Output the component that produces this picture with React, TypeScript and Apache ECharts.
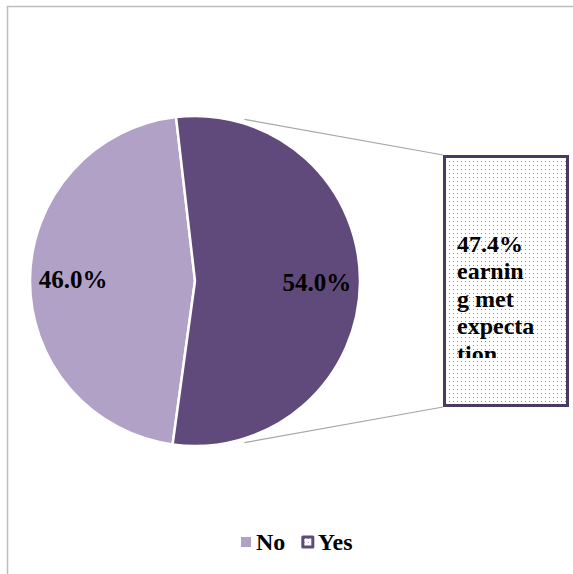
import React, { useEffect, useRef } from "react";
import * as echarts from "echarts";

const categories = ["No", "Yes"];
const shares = [46.0, 54.0];
const calloutLines = ["47.4%", "earnin", "g met", "expecta", "tion"];

const NO_COLOR = "#B2A1C7";
const YES_COLOR = "#604A7B";
const BOX_BORDER = "#4A3A60";
const FONT = "Liberation Serif";

const CX = 195;
const CY = 281;
const R = 165;

const dotSvg =
  "data:image/svg+xml;utf8," +
  encodeURIComponent(
    "<svg xmlns='http://www.w3.org/2000/svg' width='4' height='4'><rect x='0' y='0' width='4' height='4' fill='#ffffff'/><rect x='1' y='1' width='1' height='1' fill='#9486AE'/></svg>"
  );

export default function App() {
  const ref = useRef<HTMLDivElement>(null);
  useEffect(() => {
    if (!ref.current) return;
    const chart = echarts.init(ref.current, undefined, { renderer: "svg" });
    const pattern: any = {
      image: dotSvg,
      repeat: "repeat",
      imageWidth: 4,
      imageHeight: 4,
    };
    const total = shares.reduce((a, b) => a + b, 0);
    const noAngle = (shares[0] / total) * 360;
    const startAngle = 96.6 + noAngle;
    const colors = [NO_COLOR, YES_COLOR];
    const data = categories.map((c, i) => ({
      name: c,
      value: shares[i],
      itemStyle: { color: colors[i] },
    }));

    const a1 = (73 * Math.PI) / 180;
    const a2 = (-73 * Math.PI) / 180;
    const p1 = [CX + (R + 4) * Math.cos(a1), CY - (R + 4) * Math.sin(a1)];
    const p2 = [CX + (R + 4) * Math.cos(a2), CY - (R + 4) * Math.sin(a2)];

    const boxX = 444.5;
    const boxY = 156.5;
    const boxW = 123;
    const boxH = 249;

    chart.setOption({
      animation: false,
      backgroundColor: "#ffffff",
      legend: {
        left: 236,
        top: 525,
        itemWidth: 10,
        itemHeight: 10,
        itemGap: 16,
        icon: "rect",
        textStyle: {
          fontFamily: FONT,
          fontSize: 24,
          fontWeight: "bold",
          color: "#000",
        },
        data: [
          { name: "No", itemStyle: { color: NO_COLOR, borderWidth: 0 } },
          {
            name: "Yes",
            itemStyle: { color: pattern, borderColor: YES_COLOR, borderWidth: 3 },
          },
        ],
      },
      series: [
        {
          type: "pie",
          center: [CX, CY],
          radius: [0, R],
          startAngle,
          clockwise: true,
          silent: true,
          label: { show: false },
          labelLine: { show: false },
          itemStyle: { borderColor: "#ffffff", borderWidth: 2.5 },
          emphasis: { disabled: true },
          data,
        },
        {
          type: "pie",
          center: [CX, CY],
          radius: [R * 0.44, R],
          startAngle,
          clockwise: true,
          silent: true,
          itemStyle: { color: "rgba(0,0,0,0)" },
          emphasis: { disabled: true },
          label: {
            show: true,
            position: "inside",
            formatter: (p: any) => p.value.toFixed(1) + "%",
            fontFamily: FONT,
            fontSize: 25,
            fontWeight: "bold",
            color: "#000",
          },
          labelLine: { show: false },
          data: categories.map((c, i) => ({ name: c + " ", value: shares[i] })),
        },
      ],
      graphic: [
        {
          type: "rect",
          shape: { x: 7.5, y: 6.5, width: 700, height: 700 },
          style: { fill: "none", stroke: "#BDBDBD", lineWidth: 1.5 },
          silent: true,
        },
        {
          type: "line",
          shape: { x1: p1[0], y1: p1[1], x2: boxX - 1.5, y2: boxY - 1.5 },
          style: { stroke: "#A6A6A6", lineWidth: 1.2 },
          silent: true,
        },
        {
          type: "line",
          shape: { x1: p2[0], y1: p2[1], x2: boxX - 1.5, y2: boxY + boxH + 1.5 },
          style: { stroke: "#A6A6A6", lineWidth: 1.2 },
          silent: true,
        },
        {
          type: "rect",
          shape: { x: boxX, y: boxY, width: boxW, height: boxH },
          style: { fill: pattern, stroke: BOX_BORDER, lineWidth: 3 },
          silent: true,
        },
        {
          type: "text",
          x: 457,
          y: 230,
          style: {
            text: calloutLines.join("\n"),
            font: "bold 24px \"Liberation Serif\"",
            fill: "#000",
            lineHeight: 27.5,
            align: "left",
            verticalAlign: "top",
          },
          silent: true,
        },
        {
          type: "rect",
          shape: { x: boxX + 1.5, y: 358, width: boxW - 3, height: boxY + boxH - 1.5 - 358 },
          style: { fill: pattern, stroke: "none" },
          silent: true,
        },
      ],
    });
    return () => chart.dispose();
  }, []);
  return (
    <div
      ref={ref}
      style={{ position: "fixed", left: 0, top: 0, width: 573, height: 574 }}
    />
  );
}
